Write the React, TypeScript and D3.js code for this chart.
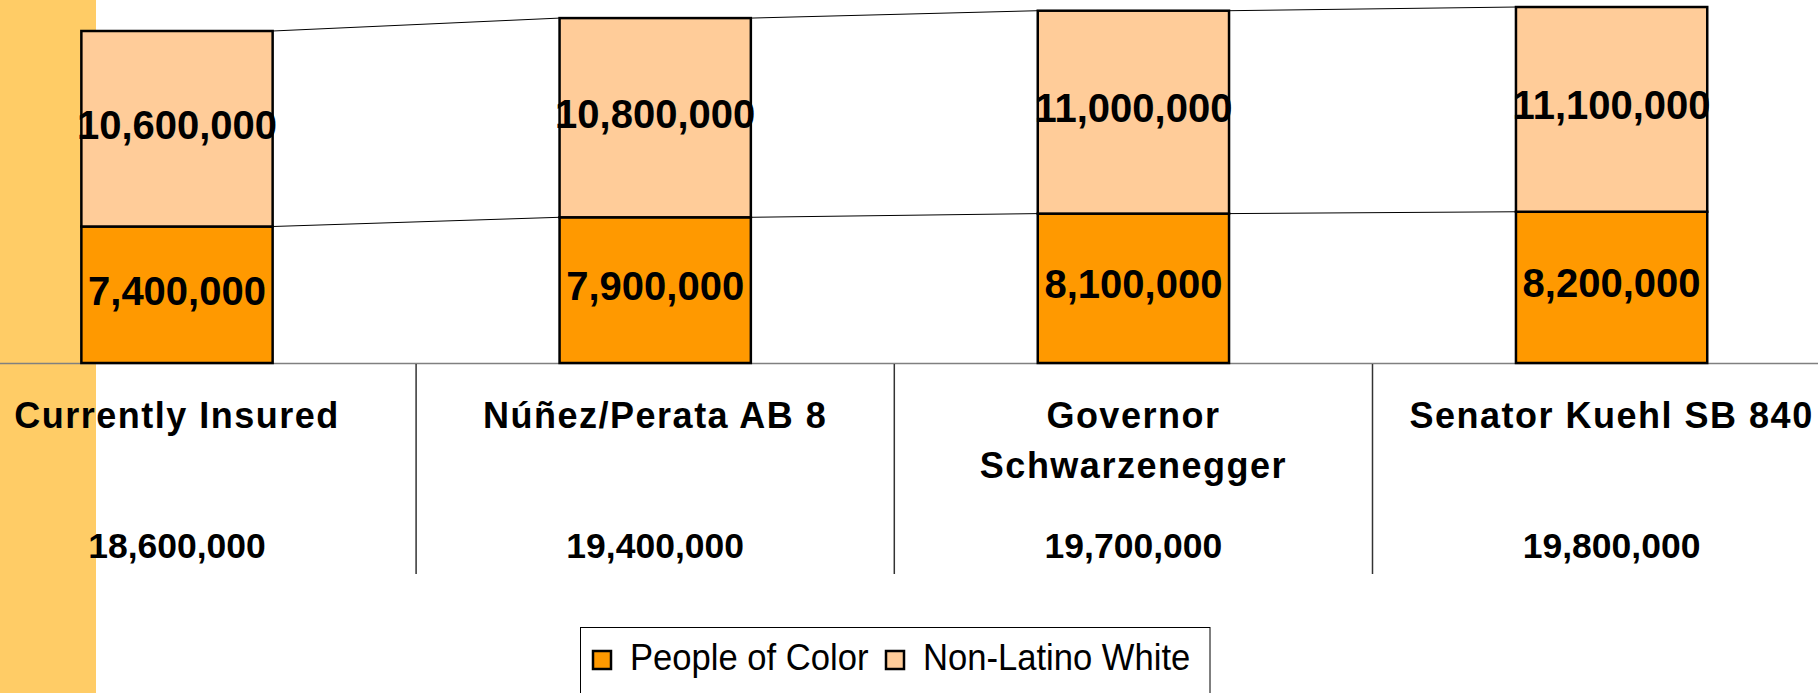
import React from "react";
import * as d3 from "d3";

const categories = ["Currently Insured", "Núñez/Perata AB 8", "Governor Schwarzenegger", "Senator Kuehl SB 840"];
const categoryLines = [["Currently Insured"], ["Núñez/Perata AB 8"], ["Governor", "Schwarzenegger"], ["Senator Kuehl SB 840"]];
const peopleOfColor = [7400000, 7900000, 8100000, 8200000];
const nonLatinoWhite = [10600000, 10800000, 11000000, 11100000];
const totals = [18600000, 19400000, 19700000, 19800000];
const seriesNames = ["People of Color", "Non-Latino White"];
const seriesColors = ["#FF9900", "#FFCC99"];

const W = 1818;
const H = 693;

export default function App() {
  const x = d3.scaleBand<string>().domain(categories).range([-62.1, 1850.7]).padding(0);
  const barW = x.bandwidth() * 0.4;
  const y = d3.scaleLinear().domain([0, 18000000]).range([363, 31]);
  const fmt = d3.format(",");

  const stackData = categories.map((c, i) => ({ c, poc: peopleOfColor[i], nlw: nonLatinoWhite[i] }));
  const stacked = d3.stack<any>().keys(["poc", "nlw"])(stackData);

  const cx = (c: string) => (x(c) as number) + x.bandwidth() / 2;
  const left = (c: string) => cx(c) - barW / 2;
  const right = (c: string) => cx(c) + barW / 2;

  const connectors: { x1: number; y1: number; x2: number; y2: number }[] = [];
  stacked.forEach((s) => {
    for (let i = 0; i < categories.length - 1; i++) {
      connectors.push({
        x1: right(categories[i]),
        y1: y(s[i][1]),
        x2: left(categories[i + 1]),
        y2: y(s[i + 1][1]),
      });
    }
  });

  const font = "'Liberation Sans', Arial, sans-serif";
  const legendSwatchX = [593, 886];

  return (
    <div style={{ position: "absolute", left: 0, top: 0 }}>
      <svg width={W} height={H} style={{ display: "block" }}>
        <rect x={0} y={0} width={W} height={H} fill="#ffffff" />
        <rect x={0} y={0} width={96} height={H} fill="#FFCC66" />

        {connectors.map((l, i) => (
          <line key={"c" + i} x1={l.x1} y1={l.y1} x2={l.x2} y2={l.y2} stroke="#000" strokeWidth={1} />
        ))}

        <line x1={0} x2={W} y1={y(0) + 0.5} y2={y(0) + 0.5} stroke="#808080" strokeWidth={1.5} />
        {categories.slice(1).map((c) => (
          <line key={"d" + c} x1={x(c) as number} x2={x(c) as number} y1={364} y2={574} stroke="#333" strokeWidth={1.5} />
        ))}

        {stacked.map((s, si) =>
          s.map((d, i) => (
            <rect
              key={"b" + si + "-" + i}
              x={left(categories[i])}
              y={y(d[1])}
              width={barW}
              height={y(d[0]) - y(d[1])}
              fill={seriesColors[si]}
              stroke="#000"
              strokeWidth={2.5}
            />
          ))
        )}

        {stacked.map((s, si) =>
          s.map((d, i) => (
            <text
              key={"v" + si + "-" + i}
              x={cx(categories[i])}
              y={(y(d[0]) + y(d[1])) / 2 + 10}
              textAnchor="middle"
              fontFamily={font}
              fontWeight="bold"
              fontSize={40}
              fill="#000"
            >
              {fmt(d[1] - d[0])}
            </text>
          ))
        )}

        {categories.map((c, i) => (
          <g key={"l" + c}>
            {categoryLines[i].map((t, j) => (
              <text
                key={j}
                x={cx(c)}
                y={428 + j * 50}
                textAnchor="middle"
                fontFamily={font}
                fontWeight="bold"
                fontSize={36}
                letterSpacing={1.5}
                fill="#000"
              >
                {t}
              </text>
            ))}
            <text
              x={cx(c)}
              y={558}
              textAnchor="middle"
              fontFamily={font}
              fontWeight="bold"
              fontSize={35.5}
              fill="#000"
            >
              {fmt(totals[i])}
            </text>
          </g>
        ))}

        <rect x={580.5} y={627.5} width={629.5} height={80} fill="#fff" stroke="#000" strokeWidth={1} />
        {seriesNames.map((n, i) => {
          const sx = legendSwatchX[i];
          return (
            <g key={"lg" + n}>
              <rect x={sx} y={651} width={18} height={18} fill={seriesColors[i]} stroke="#000" strokeWidth={2.5} />
              <text
                transform={`translate(${sx + 37},670) scale(1,1.07)`}
                fontFamily={font}
                fontSize={34.6}
                fill="#000"
              >
                {n}
              </text>
            </g>
          );
        })}
      </svg>
    </div>
  );
}
